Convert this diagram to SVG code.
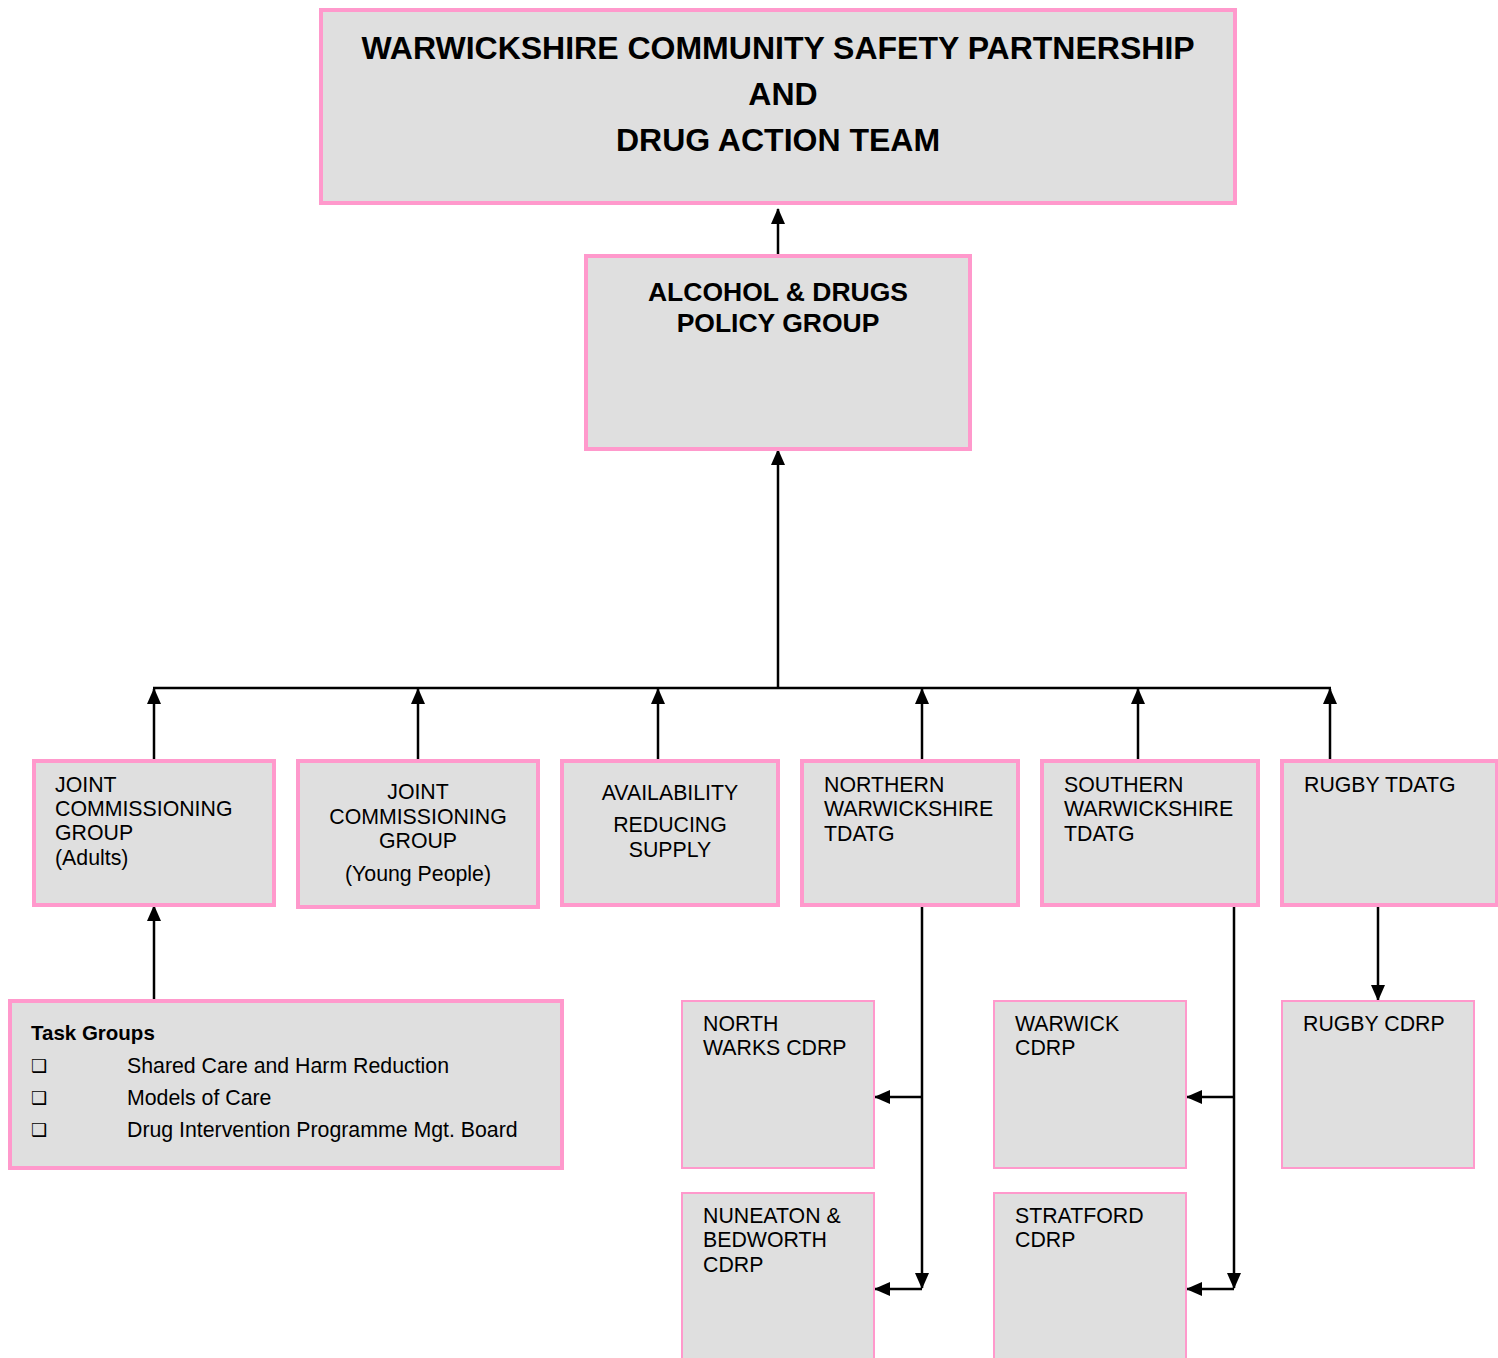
<svg xmlns="http://www.w3.org/2000/svg" width="1498" height="1358" viewBox="0 0 1498 1358">
<style>
.box{fill:#DFDFDF;stroke:#FF99CC;stroke-width:4}
.thin{fill:#DFDFDF;stroke:#FF99CC;stroke-width:2}
.t{font-family:"Liberation Sans",Arial,sans-serif;font-size:21.3px;fill:#000}
.b{font-family:"Liberation Sans",Arial,sans-serif;font-weight:bold;fill:#000}
.c{text-anchor:middle}
.ln{stroke:#000;stroke-width:2.5;fill:none}
.bul{font-family:"DejaVu Sans",sans-serif;font-size:18px;font-weight:bold;fill:#000}
</style>
<defs>
<marker id="ah" markerUnits="userSpaceOnUse" markerWidth="16" markerHeight="18" viewBox="0 0 16 14" refX="15" refY="7" orient="auto">
<path d="M0,0 L16,7 L0,14 Z" fill="#000"/>
</marker>
</defs>
<g id="connectors">
<line class="ln" x1="778" y1="256" x2="778" y2="209" marker-end="url(#ah)"/>
<line class="ln" x1="778" y1="688" x2="778" y2="450" marker-end="url(#ah)"/>
<line class="ln" x1="153" y1="688" x2="1331" y2="688"/>
<line class="ln" x1="154" y1="760" x2="154" y2="689" marker-end="url(#ah)"/>
<line class="ln" x1="418" y1="760" x2="418" y2="689" marker-end="url(#ah)"/>
<line class="ln" x1="658" y1="760" x2="658" y2="689" marker-end="url(#ah)"/>
<line class="ln" x1="922" y1="760" x2="922" y2="689" marker-end="url(#ah)"/>
<line class="ln" x1="1138" y1="760" x2="1138" y2="689" marker-end="url(#ah)"/>
<line class="ln" x1="1330" y1="760" x2="1330" y2="689" marker-end="url(#ah)"/>
<line class="ln" x1="154" y1="1000" x2="154" y2="906" marker-end="url(#ah)"/>
<line class="ln" x1="922" y1="906" x2="922" y2="1288" marker-end="url(#ah)"/>
<line class="ln" x1="922" y1="1097" x2="875" y2="1097" marker-end="url(#ah)"/>
<line class="ln" x1="922" y1="1289" x2="875" y2="1289" marker-end="url(#ah)"/>
<line class="ln" x1="1234" y1="906" x2="1234" y2="1288" marker-end="url(#ah)"/>
<line class="ln" x1="1234" y1="1097" x2="1187" y2="1097" marker-end="url(#ah)"/>
<line class="ln" x1="1234" y1="1289" x2="1187" y2="1289" marker-end="url(#ah)"/>
<line class="ln" x1="1378" y1="906" x2="1378" y2="1000" marker-end="url(#ah)"/>
</g>
<g id="top">
<rect class="box" x="321" y="10" width="914" height="193"/>
<text class="b c" font-size="32" x="778" y="59">WARWICKSHIRE COMMUNITY SAFETY PARTNERSHIP</text>
<text class="b c" font-size="32" x="783" y="105">AND</text>
<text class="b c" font-size="32" x="778" y="151">DRUG ACTION TEAM</text>
</g>
<g id="policy">
<rect class="box" x="586" y="256" width="384" height="193"/>
<text class="b c" font-size="26.5" x="778" y="301">ALCOHOL &amp; DRUGS</text>
<text class="b c" font-size="26.5" x="778" y="332">POLICY GROUP</text>
</g>
<g id="jcg-adults">
<rect class="box" x="34" y="761" width="240" height="144"/>
<text class="t" x="55" y="792">JOINT</text>
<text class="t" x="55" y="816">COMMISSIONING</text>
<text class="t" x="55" y="840">GROUP</text>
<text class="t" x="55" y="865">(Adults)</text>
</g>
<g id="jcg-young">
<rect class="box" x="298" y="761" width="240" height="146"/>
<text class="t c" x="418" y="799">JOINT</text>
<text class="t c" x="418" y="824">COMMISSIONING</text>
<text class="t c" x="418" y="848">GROUP</text>
<text class="t c" x="418" y="881">(Young People)</text>
</g>
<g id="availability">
<rect class="box" x="562" y="761" width="216" height="144"/>
<text class="t c" x="670" y="800">AVAILABILITY</text>
<text class="t c" x="670" y="832">REDUCING</text>
<text class="t c" x="670" y="857">SUPPLY</text>
</g>
<g id="northern">
<rect class="box" x="802" y="761" width="216" height="144"/>
<text class="t" x="824" y="792">NORTHERN</text>
<text class="t" x="824" y="816">WARWICKSHIRE</text>
<text class="t" x="824" y="841">TDATG</text>
</g>
<g id="southern">
<rect class="box" x="1042" y="761" width="216" height="144"/>
<text class="t" x="1064" y="792">SOUTHERN</text>
<text class="t" x="1064" y="816">WARWICKSHIRE</text>
<text class="t" x="1064" y="841">TDATG</text>
</g>
<g id="rugby-tdatg">
<rect class="box" x="1282" y="761" width="215" height="144"/>
<text class="t" x="1304" y="792">RUGBY TDATG</text>
</g>
<g id="task-groups">
<rect class="box" x="10" y="1001" width="552" height="167"/>
<text class="b" font-size="20.5" x="31" y="1040">Task Groups</text>
<text class="bul" x="31" y="1072">❑</text>
<text class="t" x="127" y="1073">Shared Care and Harm Reduction</text>
<text class="bul" x="31" y="1104">❑</text>
<text class="t" x="127" y="1105">Models of Care</text>
<text class="bul" x="31" y="1136">❑</text>
<text class="t" x="127" y="1137">Drug Intervention Programme Mgt. Board</text>
</g>
<g id="north-warks-cdrp">
<rect class="thin" x="682" y="1001" width="192" height="167"/>
<text class="t" x="703" y="1031">NORTH</text>
<text class="t" x="703" y="1055">WARKS CDRP</text>
</g>
<g id="nuneaton-cdrp">
<rect class="thin" x="682" y="1193" width="192" height="175"/>
<text class="t" x="703" y="1223">NUNEATON &amp;</text>
<text class="t" x="703" y="1247">BEDWORTH</text>
<text class="t" x="703" y="1272">CDRP</text>
</g>
<g id="warwick-cdrp">
<rect class="thin" x="994" y="1001" width="192" height="167"/>
<text class="t" x="1015" y="1031">WARWICK</text>
<text class="t" x="1015" y="1055">CDRP</text>
</g>
<g id="stratford-cdrp">
<rect class="thin" x="994" y="1193" width="192" height="175"/>
<text class="t" x="1015" y="1223">STRATFORD</text>
<text class="t" x="1015" y="1247">CDRP</text>
</g>
<g id="rugby-cdrp">
<rect class="thin" x="1282" y="1001" width="192" height="167"/>
<text class="t" x="1303" y="1031">RUGBY CDRP</text>
</g>
</svg>
